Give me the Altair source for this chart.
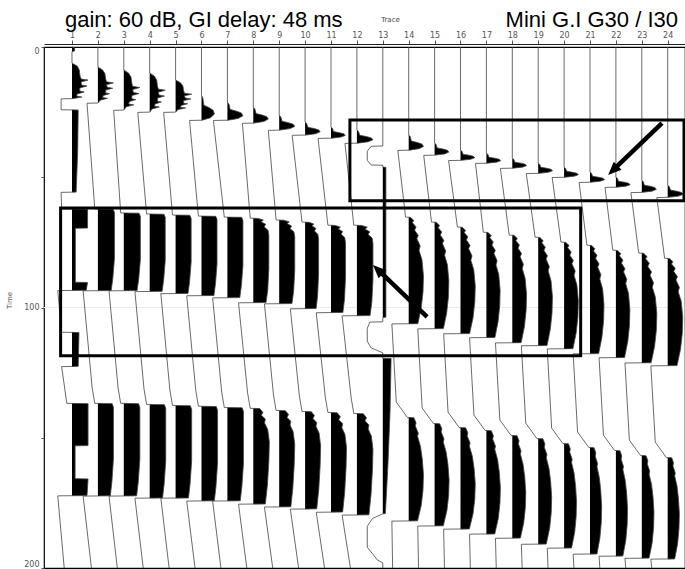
import altair as alt
import pandas as pd

# ---------------------------------------------------------------------------
# Shot record: 24 traces, time 0-200 ms. Amplitudes are in trace-spacing units.
# ---------------------------------------------------------------------------
TRACE_IDS = list(range(1, 25))

# first-break wavelet window (ms), peak amplitude and shape
WAVE_START = [6.2, 7.7, 8.8, 10.0, 12.7, 18.5, 21.2, 23.1, 26.2, 28.8, 30.8, 31.9,
              None, 33.8, 36.9, 39.6, 40.8, 42.7, 44.6, 46.2, 48.1, 50.0, 51.2, 53.1]
WAVE_END = [19.8, 21.5, 24.2, 25.0, 25.0, 28.1, 28.1, 29.2, 31.9, 33.8, 35.0, 36.9,
            None, 39.6, 41.5, 43.5, 44.6, 46.5, 48.5, 50.0, 51.9, 53.8, 55.8, 57.7]
WAVE_PEAK = [0.62, 0.60, 0.62, 0.60, 0.62, 0.50, 0.60, 0.58, 0.60, 0.58, 0.55, 0.62,
             None, 0.57, 0.55, 0.55, 0.55, 0.55, 0.55, 0.55, 0.56, 0.55, 0.56, 0.60]
WAVE_SHAPE = ["spiky"] * 5 + ["flag"] * 19

# negative offset after the first break, and level reached just before block 1
SHIFT1 = [-0.42, -0.42, -0.39, -0.46, -0.46, -0.46, -0.54, -0.42, -0.42, -0.50, -0.50, -0.46,
          None, -0.42, -0.42, -0.46, -0.42, -0.46, -0.46, -0.46, -0.42, -0.42, -0.42, -0.42]
SHIFT1_END = [-0.12] * 12 + [None] + [-0.12] * 11

# first strong event (ms)
B1_TOP = [None, 62.3, 63.8, 64.2, 64.6, 65.0, 65.4, 65.8, 66.5, 67.3, 68.5, 68.5,
          None, 65.4, 67.3, 69.2, 71.2, 72.3, 73.1, 75.0, 76.2, 78.1, 79.2, 81.2]
B1_BOT = [None, 93.5, 93.5, 93.8, 94.6, 95.4, 96.2, 98.1, 98.5, 100.4, 101.9, 103.1,
          None, 106.2, 108.1, 110.0, 111.5, 113.5, 114.6, 115.8, 117.7, 119.2, 121.2, 122.3]
B1_PEAK = [None, 0.64, 0.64, 0.60, 0.60, 0.60, 0.60, 0.60, 0.60, 0.52, 0.56, 0.62,
           None, 0.57, 0.55, 0.57, 0.53, 0.55, 0.55, 0.55, 0.54, 0.54, 0.58, 0.58]
B1_SHAPE = [None] + ["rect"] * 6 + ["rectj"] * 5 + [None] + ["bulge"] * 11

# offset between the two events
SHIFT2 = [None] + [-0.57] * 11 + [None] + [-0.65] * 11
SHIFT2_MID = [None] + [-0.22] * 11 + [None] + [-0.48] * 11
SHIFT2_LAST = [None] + [-0.12] * 11 + [None] + [-0.05] * 11

# second strong event (ms)
B2_TOP = [None, 136.9, 136.9, 137.3, 137.7, 138.0, 138.5, 138.8, 139.6, 140.0, 140.4, 140.8,
          None, 142.3, 144.6, 146.2, 147.3, 149.2, 150.4, 152.3, 153.8, 155.0, 156.9, 157.7]
B2_BOT = [None, 172.3, 172.3, 173.1, 173.1, 174.2, 174.2, 175.4, 176.5, 177.3, 178.5, 179.6,
          None, 181.9, 183.8, 185.0, 186.9, 188.5, 190.8, 192.3, 194.6, 195.4, 196.2, 196.5]
B2_PEAK = [None, 0.60, 0.62, 0.62, 0.62, 0.62, 0.62, 0.62, 0.60, 0.60, 0.60, 0.62,
           None, 0.57, 0.56, 0.57, 0.54, 0.52, 0.52, 0.48, 0.45, 0.45, 0.47, 0.45]
B2_SHAPE = [None] + ["rect"] * 6 + ["bulgej"] * 5 + [None] + ["arc"] * 11

# tail after the second event (level right after it, level at 200 ms)
SHIFT3 = [None] + [-0.57] * 11 + [None] + [-0.65] * 11
SHIFT3_END = [None] + [-0.25] * 11 + [None] + [-0.62] * 11

# event outlines: (fraction of window, fraction of peak)
SHAPES = {
    "spiky": [(0, 0), (0.08, 0.3), (0.18, 0.45), (0.33, 0.5), (0.41, 0.55), (0.44, 1.0),
              (0.49, 0.55), (0.56, 0.6), (0.59, 0.95), (0.64, 0.5), (0.72, 0.5), (0.74, 0.75),
              (0.79, 0.35), (0.85, 0.3), (0.87, 0.62), (0.92, 0.15), (1, 0)],
    "flag": [(0, 0), (0.1, 0.1), (0.4, 0.18), (0.5, 0.6), (0.6, 0.9), (0.75, 1.0),
             (0.9, 0.7), (1, 0.05)],
    "rect": [(0, 0.92), (0.04, 1.0), (0.6, 1.0), (0.85, 0.9), (1, 0.8)],
    "rectj": [(0, 0.3), (0.02, 0.65), (0.04, 0.5), (0.07, 0.8), (0.1, 0.7), (0.14, 0.95),
              (0.2, 1.0), (0.6, 1.0), (0.85, 0.93), (1, 0.82)],
    "bulge": [(0, 0.12), (0.03, 0.35), (0.05, 0.25), (0.09, 0.5), (0.12, 0.4), (0.17, 0.65),
              (0.2, 0.55), (0.27, 0.78), (0.31, 0.7), (0.4, 0.9), (0.55, 1.0), (0.7, 0.97),
              (0.85, 0.85), (1, 0.62)],
    "arc": [(0, 0.35), (0.05, 0.5), (0.08, 0.45), (0.15, 0.65), (0.18, 0.6), (0.28, 0.8),
            (0.4, 0.92), (0.55, 1.0), (0.7, 0.97), (0.85, 0.85), (1, 0.6)],
    "bulgej": [(0, 0.4), (0.04, 0.6), (0.07, 0.5), (0.11, 0.75), (0.15, 0.7), (0.22, 0.9),
               (0.35, 1.0), (0.55, 0.97), (0.8, 0.88), (1, 0.75)],
}

# trace 1 (near offset) and trace 13 are listed point by point: (ms, amplitude)
TRACE1 = [(0, 0), (0.4, 0.1), (1.5, 0.1), (1.8, 0),
          (6.2, 0), (7.3, 0.2), (8.8, 0.28), (11.1, 0.31), (12.3, 0.35), (12.7, 0.62),
          (13.4, 0.35), (14.6, 0.37), (15.0, 0.58), (15.7, 0.3), (16.9, 0.3), (17.3, 0.47),
          (18.0, 0.2), (18.8, 0.18), (19.2, 0.38), (19.8, 0.05),
          (19.9, -0.42), (24.1, -0.42), (24.2, 0.24), (40.0, 0.22), (55.7, 0.16),
          (55.8, -0.42), (62.2, -0.40),
          (62.3, 0.60), (69.5, 0.60), (69.6, 0.13), (90.3, 0.13), (90.4, 0.60), (93.4, 0.55),
          (93.5, -0.55), (109.5, -0.40), (109.6, 0.27), (122.6, 0.24), (122.7, -0.40),
          (136.8, -0.20),
          (136.9, 0.62), (153.0, 0.62), (153.1, 0.12), (165.7, 0.12), (165.8, 0.62),
          (172.2, 0.58), (172.3, -0.55), (200.0, -0.30)]
TRACE13 = [(0, 0), (38.0, 0), (38.1, -0.45), (40.0, -0.6), (43.5, -0.6), (45.3, -0.45),
           (45.4, 0), (46.1, 0), (46.2, 0.12), (103.7, 0.12), (103.8, 0), (105.5, 0),
           (105.6, -0.5), (108.0, -0.6), (113.0, -0.6), (115.5, -0.45), (117.4, 0),
           (119.5, 0), (119.6, 0.32), (140.0, 0.28), (160.0, 0.2), (179.1, 0.1),
           (179.2, 0), (181.0, -0.4), (184.0, -0.6), (192.0, -0.6), (197.0, -0.2),
           (198.0, 0), (200.0, 0)]

# annotation boxes and arrows (trace units / ms)
BOX_X0 = [11.73, 0.56]
BOX_X1 = [24.63, 20.64]
BOX_T0 = [28.0, 61.8]
BOX_T1 = [59.0, 118.5]
ARROW_X0 = [23.78, 14.71]
ARROW_T0 = [29.2, 103.6]
ARROW_X1 = [21.70, 12.62]
ARROW_T1 = [49.1, 83.7]
ARROW_ANGLE = [226, 314]

TITLE_LEFT = "gain: 60 dB, GI delay: 48 ms"
TITLE_RIGHT = "Mini G.I G30 / I30"


def window(points, t0, t1, peak, shape):
    for f, r in SHAPES[shape]:
        points.append((t0 + f * (t1 - t0), r * peak))


def build_trace(i):
    pts = [(0.0, 0.0)]
    window(pts, WAVE_START[i], WAVE_END[i], WAVE_PEAK[i], WAVE_SHAPE[i])
    pts.append((WAVE_END[i] + 0.1, SHIFT1[i]))
    pts.append((B1_TOP[i] - 0.1, SHIFT1_END[i]))
    window(pts, B1_TOP[i], B1_BOT[i], B1_PEAK[i], B1_SHAPE[i])
    pts.append((B1_BOT[i] + 0.1, SHIFT2[i]))
    pts.append((B2_TOP[i] - 6.0, SHIFT2_MID[i]))
    pts.append((B2_TOP[i] - 0.1, SHIFT2_LAST[i]))
    window(pts, B2_TOP[i], B2_BOT[i], B2_PEAK[i], B2_SHAPE[i])
    pts.append((B2_BOT[i] + 0.1, SHIFT3[i]))
    pts.append((200.0, SHIFT3_END[i]))
    return pts


rows = []
for k in TRACE_IDS:
    if k == 1:
        pts = TRACE1
    elif k == 13:
        pts = TRACE13
    else:
        pts = build_trace(k - 1)
    for j, (t, a) in enumerate(pts):
        rows.append({"trace": k, "i": j, "t": t, "amp": a,
                     "pos": k + a, "fill": k + max(a, 0.0)})
traces = pd.DataFrame(rows)

boxes = pd.DataFrame({"x0": BOX_X0, "x1": BOX_X1, "t0": BOX_T0, "t1": BOX_T1})

arrow_rows = []
head_rows = []
for n in range(len(ARROW_X0)):
    # the shaft stops a little short of the tip so the head stays pointed
    nx = ARROW_X1[n] + (ARROW_X0[n] - ARROW_X1[n]) * 0.1
    nt = ARROW_T1[n] + (ARROW_T0[n] - ARROW_T1[n]) * 0.1
    arrow_rows += [{"a": n, "k": 0, "x": ARROW_X0[n], "t": ARROW_T0[n]},
                   {"a": n, "k": 1, "x": nx, "t": nt}]
    head_rows.append({"a": n, "x": ARROW_X1[n], "t": ARROW_T1[n], "angle": ARROW_ANGLE[n]})
arrows = pd.DataFrame(arrow_rows)
heads = pd.DataFrame(head_rows)

x_scale = alt.Scale(domain=[-0.081, 24.668], nice=False, zero=False)
y_scale = alt.Scale(domain=[0, 200], nice=False, zero=False, reverse=True)

# one shared definition per axis so that every layer merges into the same guide
X_AXIS = alt.Axis(
    orient="top", values=TRACE_IDS, format="d", tickSize=4, offset=3,
    labelFontSize=8, labelColor="#555", tickColor="#555", domainColor="#222",
    grid=False, labelPadding=1, title="Trace", titleFontSize=7,
    titleFontWeight="normal", titleColor="#444", titleX=346, titleY=-22)
Y_AXIS = alt.Axis(
    values=[0, 50, 100, 150, 200],
    labelExpr="datum.value % 100 == 0 ? datum.label : ''",
    labelFlush=True,
    tickSize=3, labelFontSize=8, labelColor="#555", tickColor="#555",
    domain=False, grid=False, title="Time", titleFontSize=7,
    titleFontWeight="normal", titleColor="#555", titleX=-32, titleY=253,
    labelPadding=2)


def xq(field):
    return alt.X(field, type="quantitative", scale=x_scale, axis=X_AXIS)


def yq(field):
    return alt.Y(field, type="quantitative", scale=y_scale, axis=Y_AXIS)


grid100 = alt.Chart(pd.DataFrame({"t": [100]})).mark_rule(
    color="#ececec", strokeWidth=1
).encode(y=yq("t"))

fill = alt.Chart(traces).mark_area(
    orient="horizontal", color="black", interpolate="linear"
).encode(y=yq("t"), x=xq("trace"), x2="fill:Q", detail="trace:N")

wiggle = alt.Chart(traces).mark_line(color="#444", strokeWidth=0.8).encode(
    y=yq("t"), x=xq("pos"), detail="trace:N", order="i:Q")

box_layer = alt.Chart(boxes).mark_rect(
    fillOpacity=0, stroke="black", strokeWidth=3
).encode(x=xq("x0"), x2="x1:Q", y=yq("t0"), y2="t1:Q")

shaft = alt.Chart(arrows).mark_line(color="black", strokeWidth=4.5).encode(
    x=xq("x"), y=yq("t"), detail="a:N", order="k:Q")

head = alt.Chart(heads).mark_point(
    shape="M0,0 L0.42,1 L-0.42,1 Z", filled=True, color="black", opacity=1, size=700
).encode(x=xq("x"), y=yq("t"), angle=alt.Angle("angle:Q", scale=None))

title_l = alt.Chart(pd.DataFrame({"s": [TITLE_LEFT]})).mark_text(
    align="left", baseline="alphabetic", fontSize=22, font="Liberation Sans", color="black"
).encode(x=alt.value(21), y=alt.value(-20), text="s:N")

title_r = alt.Chart(pd.DataFrame({"s": [TITLE_RIGHT]})).mark_text(
    align="right", baseline="alphabetic", fontSize=22, font="Liberation Sans", color="black"
).encode(x=alt.value(634), y=alt.value(-20), text="s:N")

chart = alt.layer(
    grid100, fill, wiggle, box_layer, shaft, head, title_l, title_r
).properties(
    width=641, height=521,
    padding={"left": 44, "top": 47, "right": 0, "bottom": 1},
    autosize=alt.AutoSizeParams(type="none"),
    background="white",
).configure_view(
    stroke="black", strokeWidth=1.2
).configure_axis(
    labelFont="DejaVu Sans", titleFont="DejaVu Sans"
)

chart.save("out.html", embed_options={"renderer": "svg", "actions": False})
